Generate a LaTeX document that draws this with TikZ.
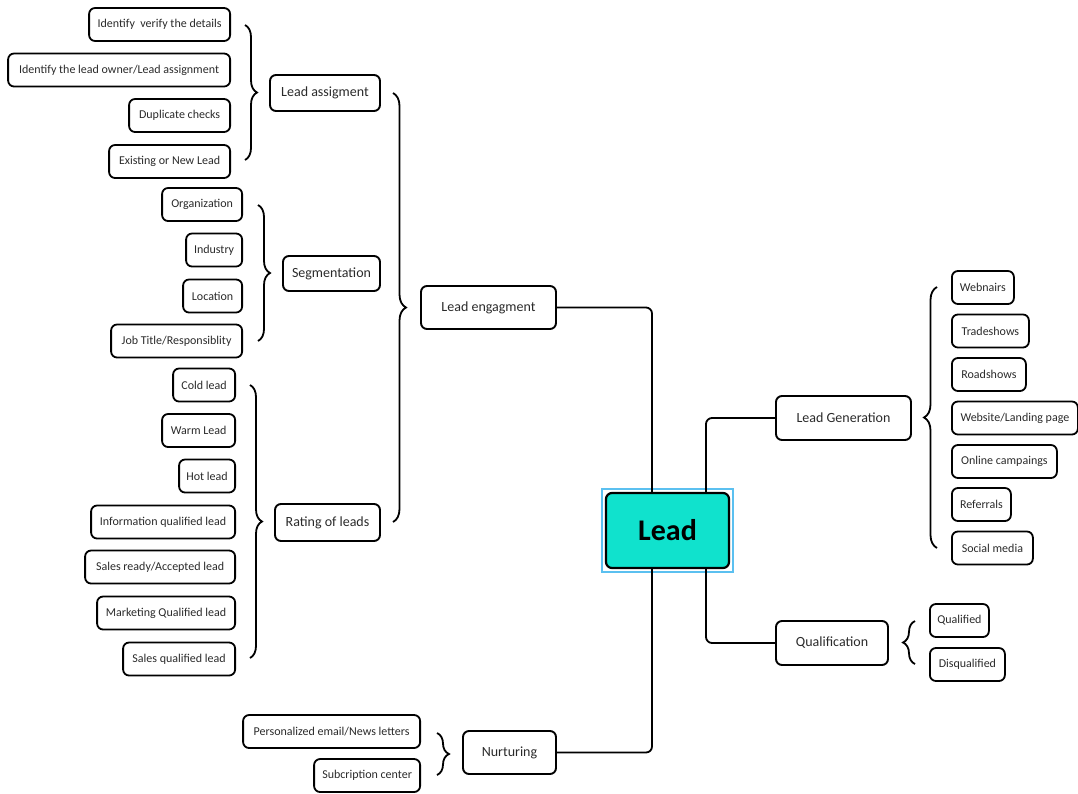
\documentclass[tikz,border=0pt]{standalone}
\usepackage{fontspec}
\setmainfont{Carlito}
\usetikzlibrary{decorations.pathreplacing}
\definecolor{leadfill}{HTML}{10E2CD}
\definecolor{selblue}{HTML}{5BC0F0}
\definecolor{txt}{HTML}{2A2A2A}
\tikzset{
  leaf/.style={draw, rounded corners=6pt, line width=1.8pt, minimum height=33pt, inner sep=0pt, text=txt, font=\fontsize{12}{14}\selectfont},
  midbox/.style={draw, rounded corners=6pt, line width=1.9pt, inner sep=0pt, text=txt, font=\fontsize{14}{16}\selectfont},
  conn/.style={line width=1.8pt, rounded corners=6pt},
  bracel/.style={decorate, decoration={brace, amplitude=#1}, line width=1.8pt},
}
\begin{document}
\begin{tikzpicture}[x=1pt,y=-1pt]
\useasboundingbox (0,0) rectangle (1078,793);
% Lead assignment group
\node[leaf, minimum width=141pt, anchor=east] (a1) at (231,24.5) {Identify~ verify the details};
\node[leaf, minimum width=222pt, anchor=east] (a2) at (231,70) {Identify the lead owner/Lead assignment};
\node[leaf, minimum width=101pt, anchor=east] (a3) at (231,115.5) {Duplicate checks};
\node[leaf, minimum width=121pt, anchor=east] (a4) at (231,161.5) {Existing or New Lead};
\node[midbox, minimum width=110pt, minimum height=36pt] (LA) at (325,93) {Lead assigment};
\draw[bracel=12pt] (245,25) -- (245,160);
% Segmentation group
\node[leaf, minimum width=80pt, anchor=east] (s1) at (243,204.5) {Organization};
\node[leaf, minimum width=56pt, anchor=east] (s2) at (243,250) {Industry};
\node[leaf, minimum width=59pt, anchor=east] (s3) at (243,296) {Location};
\node[leaf, minimum width=131pt, anchor=east] (s4) at (243,341) {Job Title/Responsiblity};
\node[midbox, minimum width=97pt, minimum height=35pt] (SEG) at (331.5,273.5) {Segmentation};
\draw[bracel=12pt] (258,205) -- (258,341);
% Rating group
\node[leaf, minimum width=62pt, anchor=east] (r1) at (236,385) {Cold lead};
\node[leaf, minimum width=73pt, anchor=east] (r2) at (236,430.5) {Warm Lead};
\node[leaf, minimum width=56pt, anchor=east] (r3) at (236,476) {Hot lead};
\node[leaf, minimum width=144pt, anchor=east] (r4) at (236,522) {Information qualified lead};
\node[leaf, minimum width=150pt, anchor=east] (r5) at (236,567) {Sales ready/Accepted lead};
\node[leaf, minimum width=138pt, anchor=east] (r6) at (236,613) {Marketing Qualified lead};
\node[leaf, minimum width=112pt, anchor=east] (r7) at (236,659) {Sales qualified lead};
\node[midbox, minimum width=105pt, minimum height=37pt] (RAT) at (327.5,522.5) {Rating of leads};
\draw[bracel=12pt] (250,385) -- (250,658);
% Engagement
\node[midbox, minimum width=135pt, minimum height=43pt] (ENG) at (488.5,307.5) {Lead engagment};
\draw[bracel=13pt] (393,93) -- (393,522);
% Central node
\node[draw=selblue, line width=1.2pt, minimum width=131pt, minimum height=83pt, inner sep=0pt] (SEL) at (667.5,530.5) {};
\node[draw, fill=leadfill, rounded corners=6pt, line width=2.2pt, minimum width=123pt, minimum height=75pt, inner sep=0pt, font=\fontsize{30}{32}\selectfont\bfseries] (LEAD) at (667.5,530.5) {Lead};
% Nurturing
\node[midbox, minimum width=93pt, minimum height=43pt] (NUR) at (509.5,752.5) {Nurturing};
\node[leaf, minimum width=177pt, anchor=east] (n1) at (421,731.5) {Personalized email/News letters};
\node[leaf, minimum width=106pt, anchor=east] (n2) at (421,775.5) {Subcription center};
\draw[bracel=12pt] (437,733) -- (437,775);
% Lead generation
\node[midbox, minimum width=135pt, minimum height=44pt] (GEN) at (843.5,418) {Lead Generation};
\node[leaf, minimum width=62pt, anchor=west] (g1) at (951,287.5) {Webnairs};
\node[leaf, minimum width=77pt, anchor=west] (g2) at (951,331) {Tradeshows};
\node[leaf, minimum width=74pt, anchor=west] (g3) at (951,374.5) {Roadshows};
\node[leaf, minimum width=126pt, anchor=west] (g4) at (951,418) {Website/Landing page};
\node[leaf, minimum width=105pt, anchor=west] (g5) at (951,461.5) {Online campaings};
\node[leaf, minimum width=59pt, anchor=west] (g6) at (951,504.5) {Referrals};
\node[leaf, minimum width=81pt, anchor=west] (g7) at (951,548) {Social media};
\draw[bracel=13pt] (937,548) -- (937,287);
% Qualification
\node[midbox, minimum width=112pt, minimum height=44pt] (QUA) at (832,643) {Qualification};
\node[leaf, minimum width=59pt, anchor=west] (q1) at (929,620.5) {Qualified};
\node[leaf, minimum width=75pt, anchor=west] (q2) at (929,664.5) {Disqualified};
\draw[bracel=12pt] (915,664) -- (915,621);
% Connectors
\draw[conn] (ENG.east) -| ([xshift=-15.5pt]LEAD.north);
\draw[conn] (NUR.east) -| ([xshift=-15.5pt]LEAD.south);
\draw[conn] (GEN.west) -| ([xshift=38.5pt]LEAD.north);
\draw[conn] (QUA.west) -| ([xshift=38.5pt]LEAD.south);
\end{tikzpicture}
\end{document}
